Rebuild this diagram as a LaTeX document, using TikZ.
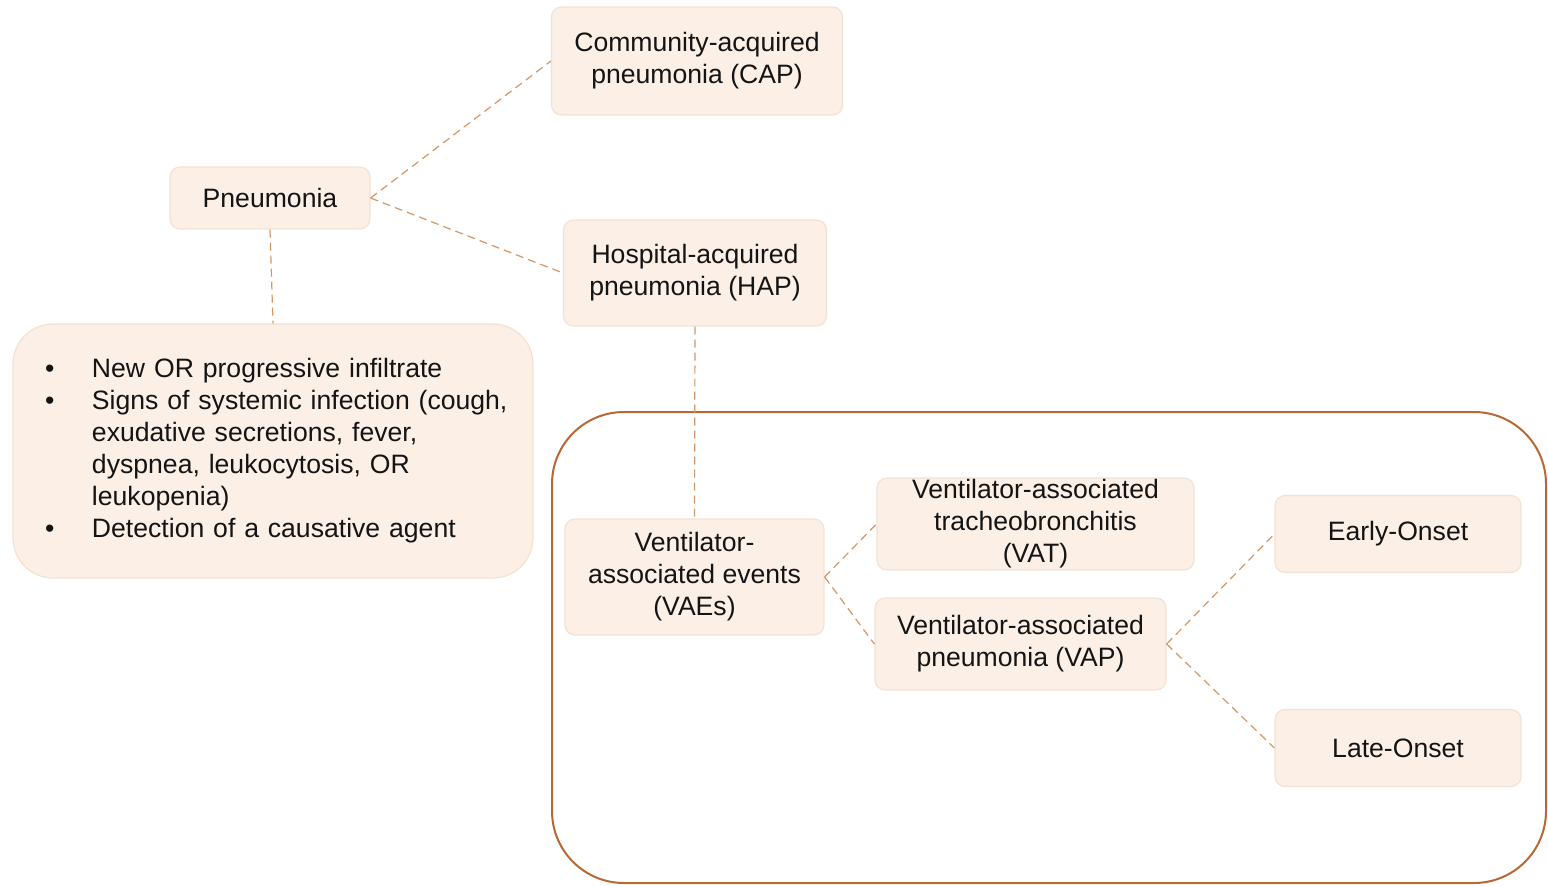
\documentclass[tikz,border=0pt]{standalone}
\usepackage{fontspec}
\setmainfont{Liberation Sans}
\definecolor{boxfill}{RGB}{251,239,230}
\definecolor{boxline}{RGB}{243,226,212}
\definecolor{dashc}{RGB}{214,150,100}
\definecolor{framec}{RGB}{184,104,52}
\definecolor{txt}{RGB}{20,20,20}
\newcommand{\bul}{\hspace*{16pt}\makebox[23.5pt][l]{\textbullet}}
\newcommand{\ind}{\hspace*{39.5pt}}
\begin{document}
\begin{tikzpicture}[x=0.5pt,y=-0.5pt,
  box/.style={draw=boxline, line width=0.6pt, fill=boxfill, rounded corners=5pt,
    align=center, inner xsep=3pt, inner ysep=0pt, text=txt,
    font=\fontsize{13.3}{16}\selectfont},
  conn/.style={draw=dashc, line width=0.6pt, dash pattern=on 4pt off 2.5pt},
  frame/.style={draw=framec, line width=1pt, rounded corners=36pt}]
\useasboundingbox (0,0) rectangle (1548,885);
\draw[frame] (552,412) rectangle (1546,883);
\node[box, minimum width=145.5pt, minimum height=54pt] (cap) at (697,61) {Community-acquired\\pneumonia (CAP)};
\node[box, minimum width=100pt, minimum height=31pt] (pn) at (270,198) {Pneumonia};
\node[box, minimum width=131.5pt, minimum height=53pt] (hap) at (695,273) {Hospital-acquired\\pneumonia (HAP)};
\node[box, rounded corners=20pt, minimum width=260pt, minimum height=127pt, align=left,
  text width=260pt, inner xsep=0pt] (crit) at (273,451)
  {\bul New OR progressive infiltrate\\
   \bul Signs of systemic infection (cough,\\
   \ind exudative secretions, fever,\\
   \ind dyspnea, leukocytosis, OR\\
   \ind leukopenia)\\
   \bul Detection of a causative agent};
\node[box, minimum width=129.5pt, minimum height=58pt] (vae) at (694.5,577) {Ventilator-\\associated events\\(VAEs)};
\node[box, minimum width=158.5pt, minimum height=46pt] (vat) at (1035.5,524) {Ventilator-associated\\tracheobronchitis\\(VAT)};
\node[box, minimum width=145.5pt, minimum height=46pt] (vap) at (1020.5,644) {Ventilator-associated\\pneumonia (VAP)};
\node[box, minimum width=123pt, minimum height=38.5pt] (early) at (1398,534) {Early-Onset};
\node[box, minimum width=123pt, minimum height=38.5pt] (late) at (1398,748) {Late-Onset};
\draw[conn] (pn.east) -- (cap.west);
\draw[conn] (pn.east) -- (hap.west);
\draw[conn] (pn.south) -- (crit.north);
\draw[conn] (hap.south) -- (vae.north);
\draw[conn] (vae.east) -- (vat.west);
\draw[conn] (vae.east) -- (vap.west);
\draw[conn] (vap.east) -- (early.west);
\draw[conn] (vap.east) -- (late.west);
\end{tikzpicture}
\end{document}
